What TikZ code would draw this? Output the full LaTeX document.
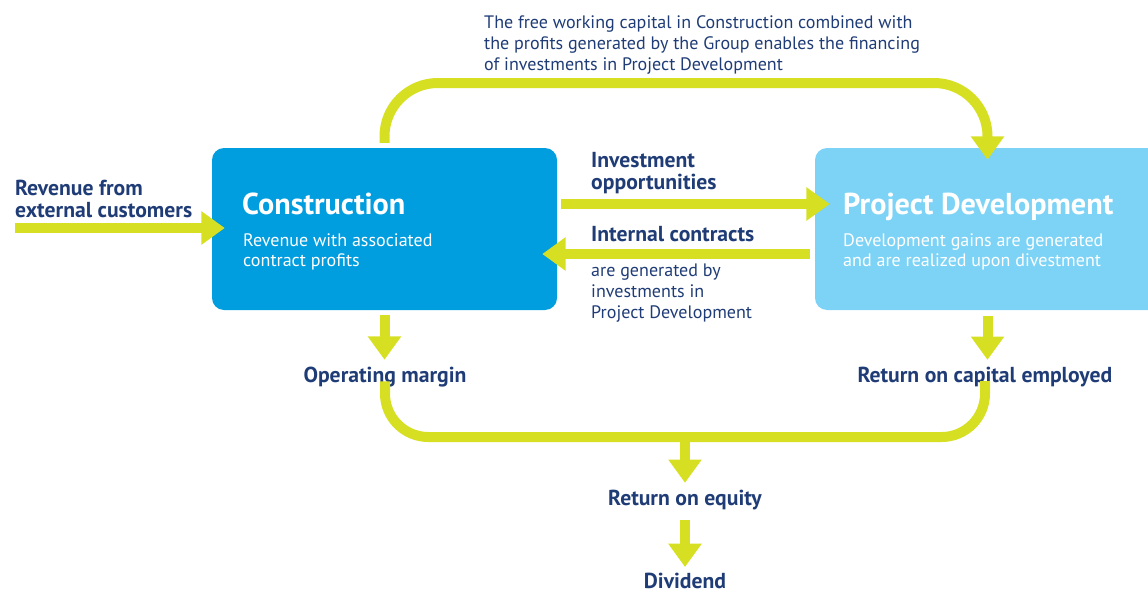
\documentclass[tikz,border=0pt]{standalone}
\usepackage{fontspec}
\setmainfont{PT Sans}
\usetikzlibrary{calc, positioning, arrows.meta}
\definecolor{flowgreen}{RGB}{215,223,35}
\definecolor{consblue}{RGB}{0,157,223}
\definecolor{devblue}{RGB}{125,211,245}
\definecolor{labelblue}{RGB}{31,60,118}
\newcommand{\labelfont}{\fontsize{18.5}{18.9}\bfseries\selectfont}
\newcommand{\titlefont}{\fontsize{25.8}{27}\bfseries\selectfont}
\newcommand{\notefont}{\fontsize{15.4}{17.9}\selectfont}
\tikzset{
  flow/.style={draw=flowgreen, line width=3mm, -{Triangle[width=9.6mm,length=7mm]}},
  bracket/.style={draw=flowgreen, line width=3mm, rounded corners=13mm},
  unitbox/.style={rounded corners=3.6mm, minimum width=103.5mm, minimum height=48.6mm, inner sep=0},
  key/.style={text=labelblue, font=\labelfont, inner sep=0},
  note/.style={text=labelblue, font=\notefont, align=left, inner sep=0, anchor=north west},
  boxtitle/.style={text=white, font=\titlefont, inner sep=0, anchor=north west},
  boxnote/.style={text=white, font=\notefont, align=left, inner sep=0, anchor=north west}
}
\begin{document}
\begin{tikzpicture}
  [x=0.3mm, y=-0.3mm]
  \useasboundingbox (0,0) rectangle (1148,593);
  % boxes %
  \node[unitbox, fill=consblue] (cons) at (384.5,229) {};
  \node[unitbox, fill=devblue] (dev) at (987.5,229) {};
  \node[boxtitle] (constitle) at (242,193) {Construction};
  \node[boxnote] (consnote) at (243,233) {Revenue with associated\\contract profits};
  \node[boxtitle] (devtitle) at (843,193) {Project Development};
  \node[boxnote] (devnote) at (843,233) {Development gains are generated\\and are realized upon divestment};

  % labels %
  \node[key, align=left, anchor=north west] (revenue) at (15,180) {Revenue from\\external customers};
  \node[key, align=left, anchor=north west] (invest) at (591,152) {Investment\\opportunities};
  \node[key, anchor=north west] (internal) at (591,226) {Internal contracts};
  \node[note] (internalnote) at (591,264) {are generated by\\investments in\\Project Development};
  \node[note] (topnote) at (484,15) {The free working capital in Construction combined with\\the profits generated by the Group enables the financing\\of investments in Project Development};
  \node[key] (margin) at (385,377) {Operating margin};
  \node[key] (roce) at (985,377) {Return on capital employed};
  \node[key] (roe) at (685,500) {Return on equity};
  \node[key, anchor=base] (dividend) at (685,588) {Dividend};
  \coordinate (revstart) at (15,228);
  \coordinate (join) at (685,437);

  % edges %
  \draw[flow, shorten >=-3.9mm] (revstart) -- (cons.west |- revstart);
  \draw[flow, shorten <=1.2mm, shorten >=-4.5mm] (cons.east |- 0,204) -- (dev.west |- 0,204);
  \draw[flow, shorten <=1.5mm, shorten >=-4.5mm] (dev.west |- 0,254) -- (cons.east |- 0,254);
  \draw[flow, rounded corners=16mm, shorten <=1.5mm, shorten >=-3.6mm]
    (cons.north) -- (cons.north |- 0,83) -- (dev.north |- 0,83) -- (dev.north);
  \draw[flow, shorten <=1.5mm, shorten >=2.1mm] (cons.south) -- (cons.south |- margin.north);
  \draw[flow, shorten <=1.8mm, shorten >=2.1mm] (dev.south) -- (dev.south |- roce.north);
  \draw[bracket] ($(margin.south)+(0,-6)$) -- (margin.south |- join) -- (roce.south |- join) -- ($(roce.south)+(0,-6)$);
  \draw[flow, shorten <=-1.5mm, shorten >=2.1mm] (join) -- (roe.north);
  \draw[flow, shorten <=3mm] (roe.south) -- ($(dividend.base)+(0,-21)$);
\end{tikzpicture}
\end{document}
